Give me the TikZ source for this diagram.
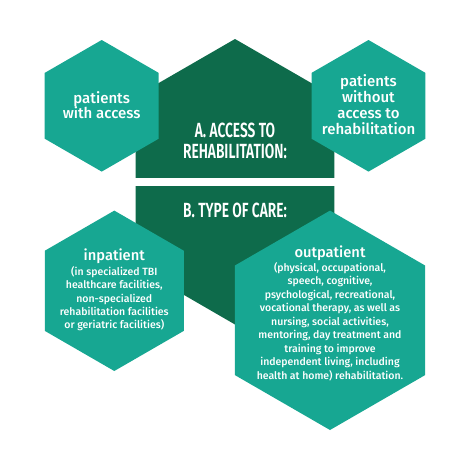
\documentclass[tikz,border=0pt]{standalone}
\usepackage{fontspec}
\setmainfont{Fira Sans}
\newfontfamily\medfont{Fira Sans Medium}
\newfontfamily\headfont[FakeStretch=0.67]{Fira Sans SemiBold}
\definecolor{teal1}{HTML}{17A792}
\definecolor{dark1}{HTML}{0E6B4B}
\tikzset{
  hexfill/.style={fill=teal1,draw=none},
  darkfill/.style={fill=dark1,draw=none},
  txt/.style={text=white,align=center,inner sep=0pt},
  head/.style={txt,font=\headfont\fontsize{20.5}{21}\selectfont},
}
\newcommand{\myhex}[3]{%
  \fill[hexfill] (#1,#2) +(30:#3) -- +(90:#3) -- +(150:#3) -- +(210:#3) -- +(270:#3) -- +(330:#3) -- cycle;}
\begin{document}
\begin{tikzpicture}[x=1pt,y=-1pt]
\useasboundingbox (0,0) rectangle (474,464);
% central dark shape
\fill[darkfill] (235,39) -- (334.3,96.3) -- (334.3,267) -- (235,324.5) -- (135.7,267) -- (135.7,96.3) -- cycle;
\fill[white] (130,178) rectangle (340,185.5);
% hexagons
\myhex{101.7}{105.8}{65.8}
\myhex{368.5}{105.8}{65.8}
\myhex{114.3}{290.8}{80.2}
\myhex{330}{320.3}{109.7}
% texts
\node[txt,font=\medfont\fontsize{15}{15.5}\selectfont] (pwa) at (101.7,105) {patients\\with access};
\node[txt,font=\medfont\fontsize{15}{15.9}\selectfont] (pwo) at (368.5,104.5) {patients\\without\\access to\\rehabilitation};
\node[head] (ha) at (235,140.8) {A. ACCESS TO\\REHABILITATION:};
\node[head] (hb) at (235,210.8) {B. TYPE OF CARE:};
\node[txt,font=\medfont\fontsize{14.7}{16}\selectfont] (inp) at (114.3,256) {inpatient};
\node[txt,font=\medfont\fontsize{10.5}{13.4}\selectfont] (inpb) at (114.3,298.7) {(in specialized TBI\\healthcare facilities,\\non-specialized\\rehabilitation facilities\\or geriatric facilities)};
\node[txt,font=\medfont\fontsize{14.7}{16}\selectfont] (outp) at (330,253) {outpatient};
\node[txt,font=\medfont\fontsize{10.5}{13.5}\selectfont] (outpb) at (330,321.5) {(physical, occupational,\\speech, cognitive,\\psychological, recreational,\\vocational therapy, as well as\\nursing, social activities,\\mentoring, day treatment and\\training to improve\\independent living, including\\health at home) rehabilitation.};
\end{tikzpicture}
\end{document}
